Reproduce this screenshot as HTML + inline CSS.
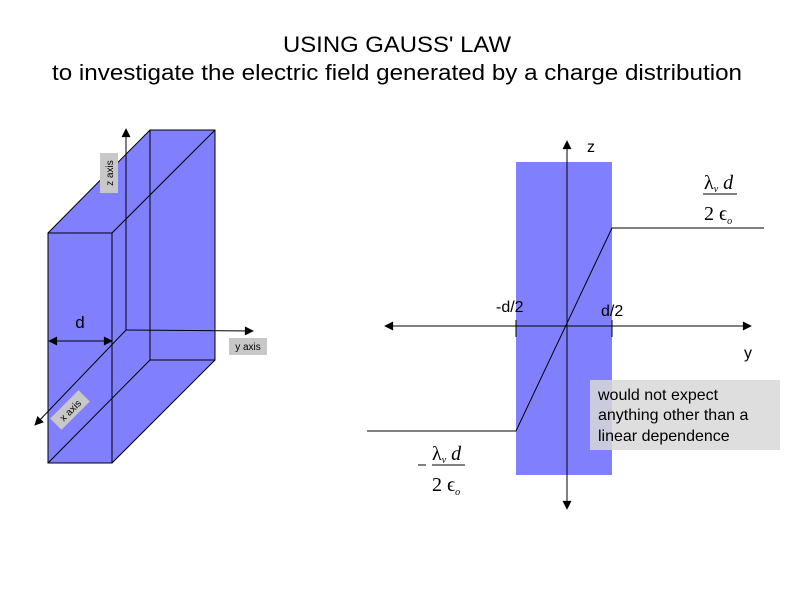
<!DOCTYPE html>
<html><head><style>html,body{margin:0;padding:0;background:#fff}svg{display:block}</style></head>
<body>
<svg width="800" height="600" viewBox="0 0 800 600" xmlns="http://www.w3.org/2000/svg" font-family="Liberation Sans, sans-serif">
<defs>
<marker id="a" viewBox="0 0 10 10" refX="9" refY="5" markerWidth="12" markerHeight="9" markerUnits="userSpaceOnUse" orient="auto-start-reverse"><path d="M0,0L10,5L0,10z" fill="#000"/></marker>
</defs>
<text x="397" y="52" font-size="22" text-anchor="middle" textLength="228" lengthAdjust="spacingAndGlyphs">USING GAUSS' LAW</text>
<text x="397" y="80" font-size="22" text-anchor="middle" textLength="690" lengthAdjust="spacingAndGlyphs">to investigate the electric field generated by a charge distribution</text>

<polygon points="48,233 150,130 215,130 215,360 112,463 48,463" fill="#8080ff" stroke="#000" stroke-width="1"/>
<g stroke="#000" stroke-width="1" fill="none">
<rect x="48" y="233" width="64" height="230"/>
<line x1="112" y1="233" x2="215" y2="130"/>
<line x1="150" y1="130" x2="150" y2="360"/>
<line x1="150" y1="360" x2="215" y2="360"/>
<line x1="48" y1="463" x2="150" y2="360"/>
<line x1="126" y1="330" x2="126" y2="129" marker-end="url(#a)"/>
<line x1="126" y1="330" x2="253" y2="331" marker-end="url(#a)"/>
<line x1="126" y1="330" x2="35" y2="425" marker-end="url(#a)"/>
<line x1="49" y1="341" x2="112" y2="341" marker-start="url(#a)" marker-end="url(#a)"/>
</g>
<text x="80" y="328" font-size="17" text-anchor="middle">d</text>
<rect x="100" y="153" width="18" height="40" fill="#c8c8c8"/>
<text transform="translate(113,173) rotate(-90)" font-size="10" text-anchor="middle">z axis</text>
<rect x="229" y="338" width="38" height="17" fill="#c8c8c8"/>
<text x="248" y="350" font-size="10" text-anchor="middle">y axis</text>
<g transform="translate(70,410) rotate(-45)"><rect x="-20" y="-8" width="40" height="16" fill="#c8c8c8"/><text x="0" y="4" font-size="10" text-anchor="middle">x axis</text></g>

<rect x="516" y="162" width="96" height="313" fill="#8080ff"/>
<g stroke="#000" stroke-width="1" fill="none">
<line x1="567" y1="326" x2="567" y2="141" marker-end="url(#a)"/>
<line x1="567" y1="326" x2="567" y2="509" marker-end="url(#a)"/>
<line x1="567" y1="326" x2="385" y2="326" marker-end="url(#a)"/>
<line x1="567" y1="326" x2="751" y2="326" marker-end="url(#a)"/>
<line x1="516" y1="320" x2="516" y2="337"/>
<line x1="612" y1="320" x2="612" y2="337"/>
<polyline points="367,431 516,431 612,228 764,228"/>
<line x1="703" y1="194" x2="737" y2="194"/>
<line x1="432" y1="465" x2="465" y2="465"/>
<line x1="418" y1="465" x2="426" y2="465"/>
</g>
<text x="587" y="152" font-size="16">z</text>
<text x="744" y="358" font-size="16">y</text>
<text x="496" y="312" font-size="16">-d/2</text>
<text x="601" y="316" font-size="16">d/2</text>
<g font-family="Liberation Serif, serif" font-size="20">
<text x="704" y="189">λ<tspan font-size="10" dy="3" font-style="italic">v</tspan><tspan dy="-3" font-style="italic"> d</tspan></text>
<text x="704" y="220">2 ϵ<tspan font-size="10" dy="4" font-style="italic">o</tspan></text>
<text x="432" y="460">λ<tspan font-size="10" dy="3" font-style="italic">v</tspan><tspan dy="-3" font-style="italic"> d</tspan></text>
<text x="432" y="491">2 ϵ<tspan font-size="10" dy="4" font-style="italic">o</tspan></text>
</g>
<rect x="590" y="380" width="190" height="70" fill="#d8d8d8" fill-opacity="0.85"/>
<g font-size="16" fill="#000">
<text x="598" y="400">would not expect</text>
<text x="598" y="420">anything other than a</text>
<text x="598" y="441">linear dependence</text>
</g>
</svg>
</body></html>
